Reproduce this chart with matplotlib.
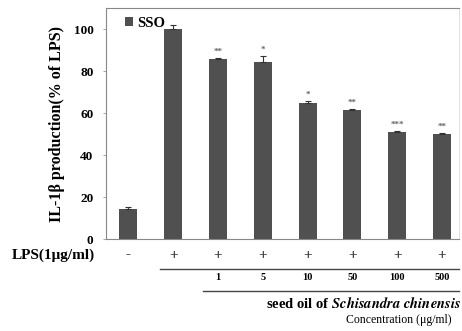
import numpy as np
from matplotlib import pyplot as plt
import matplotlib.transforms as mtransforms

plt.rcParams["font.family"] = ["Liberation Serif", "DejaVu Serif"]
plt.rcParams["mathtext.fontset"] = "stix"

# data
groups = ["ctrl", "LPS", "1", "5", "10", "50", "100", "500"]
values = [14.3, 100.0, 85.6, 84.5, 64.9, 61.2, 51.0, 50.2]
errors = [0.8, 2.0, 0.8, 2.5, 0.8, 0.6, 0.5, 0.3]
stars = ["", "", "**", "*", "*", "**", "***", "**"]
lps = ["-", "+", "+", "+", "+", "+", "+", "+"]
conc = ["", "", "1", "5", "10", "50", "100", "500"]

fig = plt.figure(figsize=(4.62, 3.31), dpi=100)
W, H = 462, 331
AW = 353
ax = fig.add_axes([106 / W, (H - 239) / H, AW / W, 231 / H])

x = np.arange(len(groups))
ax.bar(x, values, width=0.4, color="#505050", label="SSO", zorder=2)
ax.errorbar(x, values, yerr=[np.zeros(len(errors)), errors], fmt="none",
            ecolor="#333333", elinewidth=0.8, capsize=2.5, capthick=0.8, zorder=3)
for xi, v, e, s in zip(x, values, errors, stars):
    if s:
        ax.text(xi, v + e + 1.0, s, ha="center", va="bottom", fontsize=6.5,
                color="#666666", fontweight="bold")

ax.set_xlim(-0.5, 7.38)
ax.set_ylim(0, 110)
ax.set_yticks([0, 20, 40, 60, 80, 100])
ax.set_xticks([])
for lab in ax.get_yticklabels():
    lab.set_fontweight("bold")
    lab.set_fontsize(9.5)
ax.tick_params(axis="y", length=2.5, width=0.6, color="#999999", pad=6.5)
for sp in ["top", "left", "bottom"]:
    ax.spines[sp].set_color("#888888")
    ax.spines[sp].set_linewidth(0.8)
ax.spines["right"].set_color("#e2e2e2")
ax.spines["right"].set_linewidth(0.8)
ax.set_ylabel("IL-1β production(% of LPS)", fontsize=11.5, fontweight="bold", labelpad=6)

ax.legend(loc="upper left", frameon=False, handlelength=0.5, handleheight=0.5,
          handletextpad=0.3, borderaxespad=0.2,
          prop={"weight": "bold", "size": 10.5}, bbox_to_anchor=(0.03, 1.0))

def ay(py):
    return (239 - py) / 231

tr = mtransforms.blended_transform_factory(ax.transData, ax.transAxes)
for xi, s in zip(x, lps):
    ax.text(xi, ay(255), s, transform=tr, ha="center", va="center",
            fontsize=11, fontweight="bold", color="#333333", clip_on=False)
for xi, s in zip(x, conc):
    if s:
        ax.text(xi, ay(277), s, transform=tr, ha="center", va="center",
                fontsize=7.5, fontweight="bold", clip_on=False)

fig.text(12 / W, (H - 255) / H, "LPS(1μg/ml)", ha="left", va="center",
         fontsize=11, fontweight="bold")

ax.plot([(160 - 106) / AW, 1.0], [ay(269), ay(269)], transform=ax.transAxes,
        color="#444444", lw=1.0, clip_on=False)
ax.plot([(203 - 106) / AW, 1.0], [ay(291), ay(291)], transform=ax.transAxes,
        color="#444444", lw=1.0, clip_on=False)

fig.text(461 / W, (H - 304) / H, r"seed oil of $\mathbfit{Schisandra\ chinensis}$",
         ha="right", va="center", fontsize=10.5, fontweight="bold")
fig.text(451 / W, (H - 320) / H, "Concentration (μg/ml)", ha="right", va="center",
         fontsize=8.5)

fig.savefig("out.png", dpi=100)
